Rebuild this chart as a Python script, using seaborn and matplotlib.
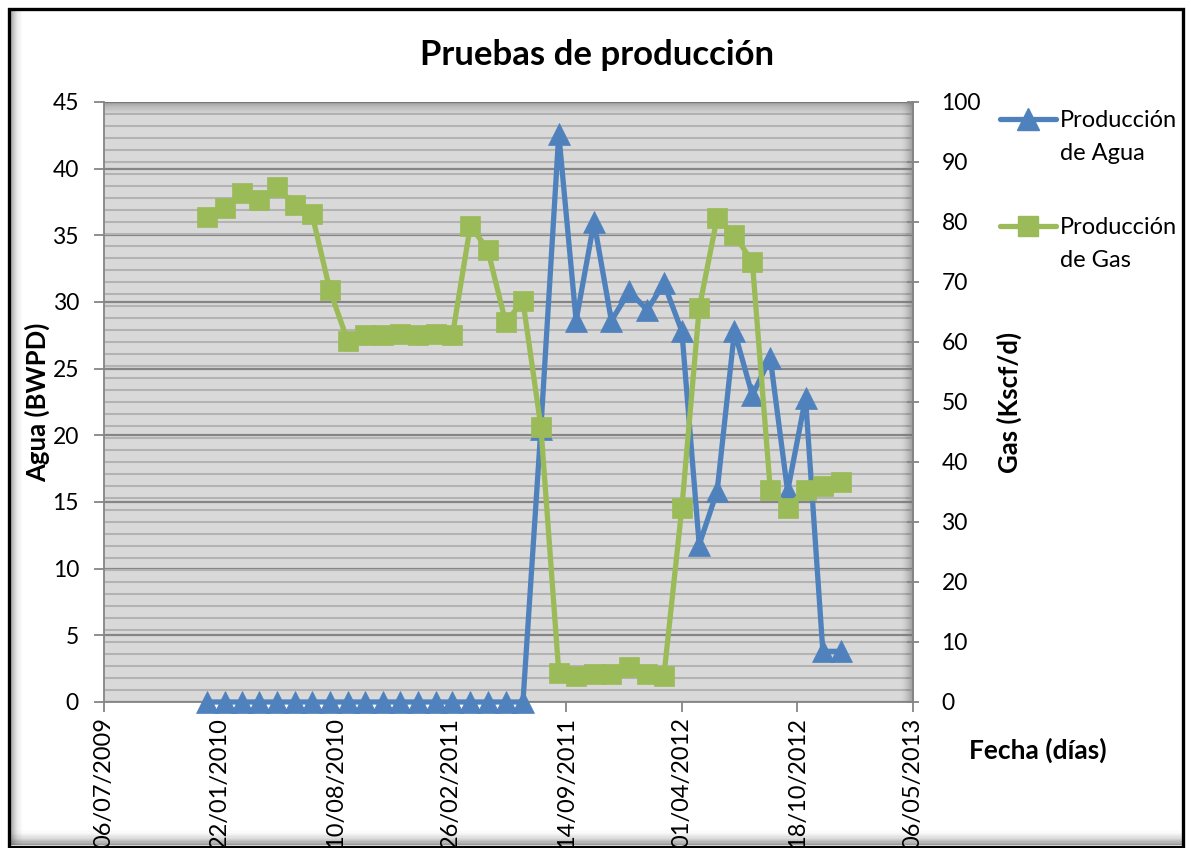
import numpy as np
import pandas as pd
import matplotlib
matplotlib.use("Agg")
import matplotlib.pyplot as plt
import matplotlib.dates as mdates
import seaborn as sns
from matplotlib.patches import Rectangle
from matplotlib.lines import Line2D
from matplotlib.ticker import MultipleLocator, FixedLocator

# ---------------- data ----------------
fechas = pd.date_range("2010-01-01", periods=37, freq="MS")
agua = [0, 0, 0, 0, 0, 0, 0, 0, 0, 0, 0, 0, 0, 0, 0, 0, 0, 0, 0,
        20.5, 42.6, 28.6, 36.0, 28.6, 30.8, 29.4, 31.4, 27.8, 11.8, 15.8,
        27.8, 23.0, 25.8, 15.8, 22.8, 3.8, 3.8]
gas = [80.8, 82.4, 84.8, 83.6, 85.9, 82.8, 81.3, 68.6, 60.1, 61.2, 61.2, 61.4,
       61.2, 61.3, 61.1, 79.4, 75.4, 63.3, 66.8, 45.9, 4.9, 4.3, 4.7, 4.7, 5.9,
       4.7, 4.4, 32.4, 65.6, 80.7, 77.9, 73.3, 35.4, 32.4, 35.3, 36.0, 36.7]
x_ticks = pd.to_datetime(["2009-07-06", "2010-01-22", "2010-08-10", "2011-02-26",
                          "2011-09-14", "2012-04-01", "2012-10-18", "2013-05-06"])
labels = ["Producción\nde Agua", "Producción\nde Gas"]

AZUL = "#4F81BD"
VERDE = "#9BBB59"

sns.set_theme(style="ticks")
plt.rcParams["font.family"] = ["Lato", "DejaVu Sans"]
plt.rcParams["text.color"] = "black"
plt.rcParams["axes.labelcolor"] = "black"
plt.rcParams["xtick.color"] = "black"
plt.rcParams["ytick.color"] = "black"

W, H = 1191, 848
fig = plt.figure(figsize=(W / 100, H / 100), dpi=100)
fig.patch.set_facecolor("white")

L, R, T, B = 104, 913, 102, 702
ax = fig.add_axes([L / W, 1 - B / H, (R - L) / W, (B - T) / H])
ax.set_facecolor("#D9D9D9")
ax2 = ax.twinx()
ax2.patch.set_visible(False)

df = pd.DataFrame({"Fecha": fechas, "Agua": agua, "Gas": gas})

sns.lineplot(data=df, x="Fecha", y="Agua", ax=ax, color=AZUL, linewidth=3.8,
             marker="^", markersize=16, markeredgewidth=0.5,
             markeredgecolor=AZUL, markerfacecolor=AZUL, legend=False,
             zorder=3, clip_on=False)
sns.lineplot(data=df, x="Fecha", y="Gas", ax=ax2, color=VERDE, linewidth=3.8,
             marker="s", markersize=14, markeredgewidth=0.5,
             markeredgecolor=VERDE, markerfacecolor=VERDE, legend=False,
             zorder=3, clip_on=False)

# limits
ax.set_xlim(x_ticks[0], x_ticks[-1])
ax.set_ylim(0, 45)
ax2.set_ylim(0, 100)

# grid (drawn on the bottom axes, below the lines)
ax.yaxis.set_major_locator(MultipleLocator(5))
ax.yaxis.set_minor_locator(MultipleLocator(0.9))
ax.grid(which="minor", axis="y", color="#B3B3B3", linewidth=1.5, zorder=0.5)
ax.grid(which="major", axis="y", color="#858585", linewidth=1.6, zorder=0.6)
ax.grid(False, axis="x")
ax.set_axisbelow(True)
ax2.grid(False)

# x ticks
ax.xaxis.set_major_locator(FixedLocator(mdates.date2num(x_ticks)))
ax.xaxis.set_major_formatter(mdates.DateFormatter("%d/%m/%Y"))
ax.tick_params(axis="x", which="major", direction="out", length=7, width=1.3,
               color="#858585", labelsize=17, rotation=90, pad=4,
               labelcolor="black")
ax.tick_params(axis="y", which="major", direction="out", length=7, width=1.3,
               color="#858585", labelsize=16.5, pad=11, left=True,
               labelcolor="black")
ax.tick_params(axis="y", which="minor", length=0)

ax2.yaxis.set_major_locator(MultipleLocator(10))
ax2.yaxis.set_minor_locator(MultipleLocator(2))
ax2.tick_params(axis="y", which="major", direction="inout", length=9, width=1.3,
                color="#858585", labelsize=16.5, pad=16, right=True,
                labelcolor="black")
ax2.tick_params(axis="y", which="minor", direction="in", length=5, width=1.1,
                color="#9A9A9A", right=True)

for a in (ax, ax2):
    for s in a.spines.values():
        s.set_color("#858585")
        s.set_linewidth(1.3)
    a.spines["top"].set_visible(False)
ax2.spines["left"].set_visible(False)
ax2.spines["bottom"].set_visible(False)

ax.set_xlabel("")
ax.set_ylabel("Agua (BWPD)", fontsize=18.5, fontweight="bold", labelpad=2)
ax2.set_ylabel("Gas (Kscf/d)", fontsize=18.5, fontweight="bold", labelpad=11)

# plot-area shadows (top and right edges)
def shade_axes(a, x0, y0, w, h, horizontal, dark_at_start, n=12, color="#6E6E6E", amax=0.55):
    for i in range(n):
        frac = i / n
        alpha = amax * (1 - frac) ** 1.6
        if horizontal:
            xx = x0 + (frac * w if dark_at_start else (1 - frac - 1 / n) * w)
            a.add_patch(Rectangle((xx, y0), w / n, h, transform=a.transAxes,
                                  facecolor=color, edgecolor="none", alpha=alpha,
                                  zorder=1.5, clip_on=False))
        else:
            yy = y0 + ((1 - frac - 1 / n) * h if dark_at_start else frac * h)
            a.add_patch(Rectangle((x0, yy), w, h / n, transform=a.transAxes,
                                  facecolor=color, edgecolor="none", alpha=alpha,
                                  zorder=1.5, clip_on=False))

aw, ah = R - L, B - T
shade_axes(ax, 0, 1 - 13 / ah, 1, 13 / ah, horizontal=False, dark_at_start=True)
shade_axes(ax, 1 - 12 / aw, 0, 12 / aw, 1, horizontal=True, dark_at_start=False)

# legend (handle aligned with first line of the label, as in the original)
legend_specs = [(labels[0], AZUL, "^", 16, 119), (labels[1], VERDE, "s", 14, 226)]
for text, col, mk, ms, ypx in legend_specs:
    yy = 1 - ypx / H
    fig.add_artist(Line2D([1000 / W, 1028 / W, 1056 / W], [yy, yy, yy],
                          transform=fig.transFigure, color=col, linewidth=3.8,
                          marker=mk, markersize=ms, markevery=[1],
                          markeredgecolor=col, solid_capstyle="round"))
    fig.text(1060 / W, yy + 9 / H, text, ha="left", va="top", fontsize=17,
             linespacing=1.7)

# titles
fig.text(597 / W, 1 - 55 / H, "Pruebas de producción", ha="center", va="center",
         fontsize=25, fontweight="bold")
fig.text(1038 / W, 1 - 750 / H, "Fecha (días)", ha="center", va="center",
         fontsize=19, fontweight="bold")

# outer frame shading and border
def shade_fig(x0, y0, w, h, horizontal, dark_at_start, n=12, color="#5A5A5A", amax=0.6):
    for i in range(n):
        frac = i / n
        alpha = amax * (1 - frac) ** 1.8
        if horizontal:
            xx = x0 + (frac * w if dark_at_start else (1 - frac - 1 / n) * w)
            fig.patches.append(Rectangle((xx / W, 1 - (y0 + h) / H), w / n / W, h / H,
                                         transform=fig.transFigure, facecolor=color,
                                         edgecolor="none", alpha=alpha, zorder=-1))
        else:
            yy = y0 + (frac * h if not dark_at_start else (1 - frac - 1 / n) * h)
            fig.patches.append(Rectangle((x0 / W, 1 - (yy + h / n) / H), w / W, h / n / H,
                                         transform=fig.transFigure, facecolor=color,
                                         edgecolor="none", alpha=alpha, zorder=-1))

shade_fig(9, 10, 14, 835, horizontal=True, dark_at_start=True)
shade_fig(9, 830, 1173, 15, horizontal=False, dark_at_start=True)

fig.patches.append(Rectangle((8.5 / W, 1 - 846.5 / H), (1183 - 8.5) / W, (846.5 - 9) / H,
                             transform=fig.transFigure, fill=False,
                             edgecolor="black", linewidth=2.4, zorder=10))

fig.savefig("out.png", dpi=100, facecolor="white")
